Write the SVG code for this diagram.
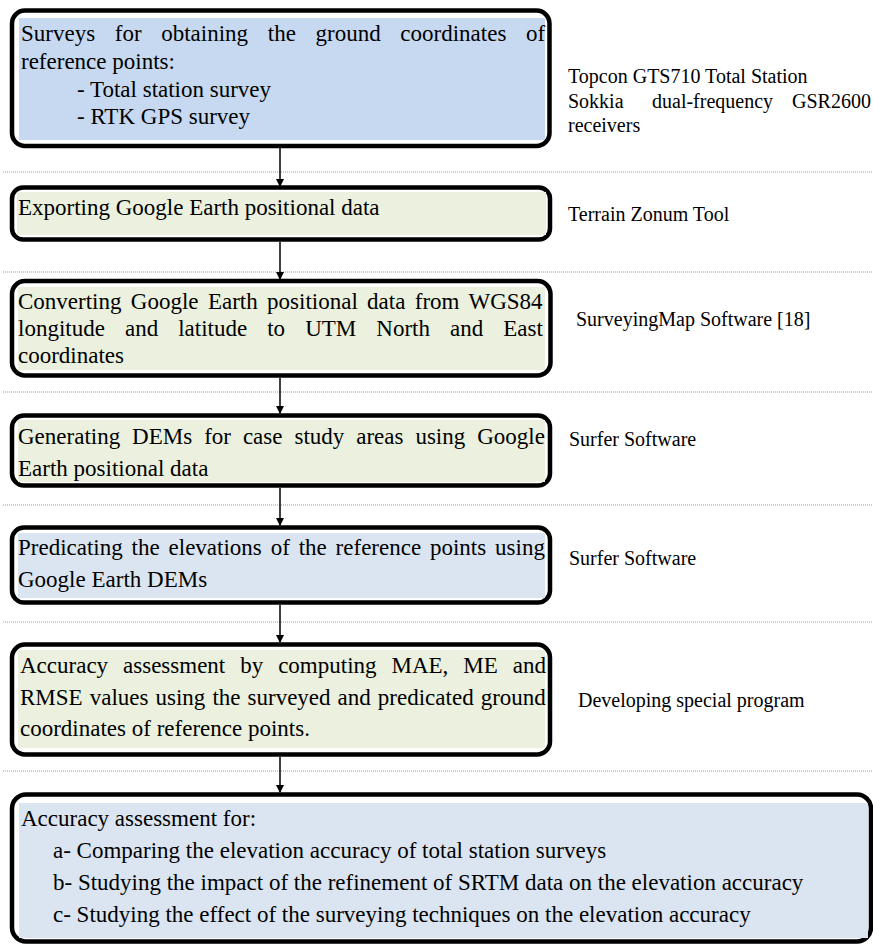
<svg xmlns="http://www.w3.org/2000/svg" width="873" height="944" viewBox="0 0 873 944">
<style>
.box{fill:#ffffff;stroke:#000000;stroke-width:4.5}
.blue{fill:#c6d9f1}
.green{fill:#ebf1de}
.lblue{fill:#dbe5f1}
.t{font-family:"Liberation Serif","Times New Roman",serif;font-size:23px;fill:#000000}
.r{font-family:"Liberation Serif","Times New Roman",serif;font-size:20px;fill:#000000}
.sep{stroke:#9a9a9a;stroke-width:1;stroke-dasharray:1 1;fill:none}
.arr{stroke:#000000;stroke-width:1.5;fill:none;marker-end:url(#ah)}
</style>
<defs>
<marker id="ah" markerWidth="8" markerHeight="10" refX="7" refY="4" orient="auto" markerUnits="userSpaceOnUse" viewBox="0 0 8 8">
<path d="M0,0 L8,4 L0,8 Z" fill="#000000"/>
</marker>
</defs>

<g id="separators">
<line class="sep" x1="3" y1="172" x2="873" y2="172"/>
<line class="sep" x1="3" y1="272" x2="873" y2="272"/>
<line class="sep" x1="3" y1="392" x2="873" y2="392"/>
<line class="sep" x1="3" y1="505" x2="873" y2="505"/>
<line class="sep" x1="3" y1="622" x2="873" y2="622"/>
<line class="sep" x1="3" y1="771" x2="873" y2="771"/>
</g>

<g id="connectors">
<line class="arr" x1="280" y1="148" x2="280" y2="186"/>
<line class="arr" x1="280" y1="242" x2="280" y2="279"/>
<line class="arr" x1="280" y1="378" x2="280" y2="413"/>
<line class="arr" x1="280" y1="488" x2="280" y2="525"/>
<line class="arr" x1="280" y1="605" x2="280" y2="642"/>
<line class="arr" x1="280" y1="757" x2="280" y2="792"/>
</g>

<g id="node1">
<rect class="box" x="12" y="10.5" width="537.5" height="135.5" rx="13"/>
<rect class="blue" x="19" y="18" width="526" height="122"/>
<text class="t" x="21" y="41" word-spacing="13.9">Surveys for obtaining the ground coordinates of</text>
<text class="t" x="21" y="69">reference points:</text>
<text class="t" x="77" y="97">- Total station survey</text>
<text class="t" x="77" y="124">- RTK GPS survey</text>
</g>

<g id="node2">
<rect class="box" x="12" y="187.5" width="538" height="52" rx="11"/>
<rect class="green" x="17" y="192" width="529" height="43"/>
<text class="t" x="18" y="215">Exporting Google Earth positional data</text>
</g>

<g id="node3">
<rect class="box" x="12" y="281" width="538.5" height="94.5" rx="13"/>
<rect class="green" x="18" y="287" width="527" height="83"/>
<text class="t" x="18" y="309" word-spacing="3.6">Converting Google Earth positional data from WGS84</text>
<text class="t" x="18" y="336" word-spacing="14.3">longitude and latitude to UTM North and East</text>
<text class="t" x="18" y="363">coordinates</text>
</g>

<g id="node4">
<rect class="box" x="12" y="415.5" width="538" height="70" rx="12"/>
<rect class="green" x="18" y="420" width="527" height="62"/>
<text class="t" x="18" y="444" word-spacing="6.2">Generating DEMs for case study areas using Google</text>
<text class="t" x="18" y="476">Earth positional data</text>
</g>

<g id="node5">
<rect class="box" x="12" y="527.5" width="538" height="75" rx="12"/>
<rect class="lblue" x="18" y="533" width="527" height="65"/>
<text class="t" x="18" y="555" word-spacing="3.1">Predicating the elevations of the reference points using</text>
<text class="t" x="18" y="587">Google Earth DEMs</text>
</g>

<g id="node6">
<rect class="box" x="12" y="644.5" width="538" height="110" rx="13"/>
<rect class="green" x="18" y="650" width="527" height="98"/>
<text class="t" x="20" y="673" word-spacing="9.2">Accuracy assessment by computing MAE, ME and</text>
<text class="t" x="20" y="705" word-spacing="1.3">RMSE values using the surveyed and predicated ground</text>
<text class="t" x="20" y="736">coordinates of reference points.</text>
</g>

<g id="node7">
<rect class="box" x="12" y="794.5" width="859" height="147" rx="14"/>
<rect class="lblue" x="19" y="803" width="849" height="135"/>
<text class="t" x="21" y="826">Accuracy assessment for:</text>
<text class="t" x="53" y="858">a- Comparing the elevation accuracy of total station surveys</text>
<text class="t" x="53" y="890">b- Studying the impact of the refinement of SRTM data on the elevation accuracy</text>
<text class="t" x="53" y="922">c- Studying the effect of the surveying techniques on the elevation accuracy</text>
</g>

<g id="labels">
<text class="r" x="568" y="83">Topcon GTS710 Total Station</text>
<text class="r" x="568" y="108">Sokkia</text>
<text class="r" x="652" y="108">dual-frequency</text>
<text class="r" x="792" y="108">GSR2600</text>
<text class="r" x="568" y="132">receivers</text>
<text class="r" x="568" y="221">Terrain Zonum Tool</text>
<text class="r" x="576" y="326">SurveyingMap Software [18]</text>
<text class="r" x="569" y="446">Surfer Software</text>
<text class="r" x="569" y="565">Surfer Software</text>
<text class="r" x="578" y="707">Developing special program</text>
</g>
</svg>
